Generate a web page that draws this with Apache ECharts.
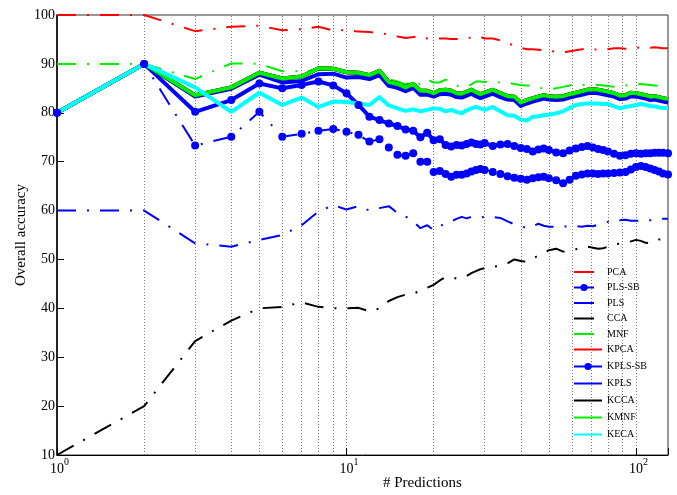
<!DOCTYPE html>
<html>
<head>
<meta charset="utf-8">
<script src="https://cdn.jsdelivr.net/npm/echarts@6/dist/echarts.min.js"></script>
<style>
  html, body { margin: 0; padding: 0; background: #fff; }
  #chart { width: 677px; height: 495px; }
</style>
</head>
<body>
<div id="chart"></div>
<script>
// number of predictions (log x axis)
const preds = [1, 2, 3, 4, 5, 6, 7, 8, 9, 10, 11, 12, 13, 14, 15, 16, 17, 18, 19, 20,
  21, 22, 23, 24, 25, 26, 27, 28, 29, 30, 32, 34, 36, 38, 40, 42, 44, 46, 48, 50,
  53, 56, 59, 62, 65, 68, 71, 74, 77, 80, 84, 88, 92, 96, 100, 104, 108, 112, 116, 120, 124, 129]

// overall accuracy, one array per method (same order as preds)
const pca = [100, 100, 96.7, 97.6, 97.8, 96.9, 97.1, 97.6, 96.8, 96.9, 96.6, 96.5, 96.3, 96.0, 95.6, 95.3, 95.5, 95.7, 95.2, 95.0,
  95.2, 95.2, 95.1, 95.1, 95.1, 95.2, 95.4, 95.7, 95.5, 95.2, 95.2, 94.8, 94.3, 93.7, 93.3, 93.0, 93.0, 92.9, 92.8, 92.8,
  92.4, 92.3, 92.6, 92.8, 93.0, 93.2, 93.0, 92.9, 92.8, 93.0, 93.2, 93.2, 93.1, 93.2, 93.3, 93.4, 93.4, 93.3, 93.4, 93.3, 93.2, 93.2]
const plsSb = [80, 90, 73.3, 75.1, 80.2, 75.1, 75.7, 76.3, 76.7, 76.1, 75.5, 74.1, 74.6, 72.9, 71.4, 71.2, 71.7, 70.0, 70.0, 67.9,
  68.1, 67.5, 66.9, 67.3, 67.3, 67.6, 68.0, 68.3, 68.5, 68.3, 67.9, 67.5, 67.0, 66.7, 66.5, 66.3, 66.6, 66.8, 66.9, 66.6,
  66.2, 65.6, 66.3, 67.1, 67.4, 67.6, 67.6, 67.5, 67.6, 67.6, 67.7, 67.8, 67.9, 68.4, 68.9, 69.1, 68.9, 68.6, 68.3, 68.0, 67.6, 67.4]
const pls = [60, 60, 53.3, 52.6, 54.0, 55.0, 57.0, 59.8, 61.1, 60.2, 60.9, 60.0, 60.5, 60.9, 59.5, 58.8, 57.8, 56.4, 57.0, 56.0,
  56.8, 57.4, 57.8, 58.3, 58.7, 58.4, 58.7, 58.6, 58.6, 58.7, 58.7, 58.5, 57.8, 57.2, 56.8, 56.4, 56.8, 57.3, 56.9, 56.7,
  56.7, 56.7, 56.8, 56.8, 56.7, 56.9, 56.8, 57.1, 57.4, 57.7, 58.1, 58.0, 58.1, 57.9, 57.9, 57.9, 58.0, 58.0, 58.1, 58.2, 58.3, 58.3]
const cca = [10, 20, 33.3, 37.5, 40.0, 40.3, 41.2, 40.3, 40.0, 40.0, 40.1, 39.4, 40.0, 41.5, 42.3, 42.8, 43.0, 43.6, 44.2, 44.8,
  45.7, 46.4, 46.4, 46.1, 46.2, 46.6, 47.2, 47.6, 48.0, 48.2, 48.5, 48.7, 49.2, 50.0, 49.7, 49.5, 50.2, 50.8, 51.3, 51.9,
  52.2, 51.6, 51.8, 52.1, 52.5, 52.6, 52.4, 52.2, 52.3, 52.6, 53.1, 53.2, 53.4, 53.7, 54.0, 53.8, 53.4, 53.3, 53.7, 54.1, 54.1, 53.9]
const mnf = [90, 90, 86.9, 90.1, 90.0, 88.5, 88.5, 88.7, 88.9, 88.5, 88.3, 87.8, 88.4, 86.9, 86.4, 85.8, 86.6, 85.8, 86.8, 86.2,
  86.2, 86.8, 86.2, 85.6, 85.2, 85.3, 85.8, 86.4, 86.4, 86.3, 86.4, 86.2, 86.2, 85.9, 85.7, 85.6, 85.5, 85.2, 84.9, 84.8,
  85.0, 85.3, 85.6, 85.8, 85.7, 85.7, 85.8, 85.7, 85.6, 85.5, 85.3, 85.4, 85.6, 85.7, 85.8, 85.9, 85.8, 85.7, 85.6, 85.5, 85.6, 85.6]
const kmnf = [80, 90, 83.6, 85.2, 88.2, 87.0, 87.4, 89.1, 89.0, 88.3, 88.2, 87.7, 88.6, 86.3, 85.9, 85.2, 85.9, 84.5, 84.5, 84.0,
  84.6, 84.7, 84.5, 84.0, 83.9, 84.3, 84.7, 84.2, 83.8, 84.1, 84.7, 84.0, 83.4, 83.3, 82.1, 82.6, 83.0, 83.3, 83.6, 83.4,
  83.3, 83.4, 83.8, 84.1, 84.4, 84.7, 84.8, 84.7, 84.5, 84.3, 84.0, 83.5, 83.6, 84.1, 84.0, 83.8, 83.6, 83.3, 83.4, 83.2, 83.0, 82.8]
// KPCA and KCCA lie under the KMNF curve in the picture
const kpca = kmnf
const kcca = kmnf
const kplsSb = [80, 90, 80.2, 82.6, 86.0, 85.0, 85.7, 86.4, 85.6, 84.0, 81.6, 79.2, 78.5, 77.8, 77.3, 76.6, 76.3, 75.0, 75.9, 74.4,
  74.6, 73.4, 73.1, 73.4, 73.3, 73.6, 73.9, 73.6, 73.5, 73.8, 73.2, 73.5, 73.6, 73.2, 72.8, 72.6, 72.1, 72.5, 72.7, 72.4,
  71.9, 71.7, 72.3, 72.7, 73.0, 73.2, 72.9, 72.6, 72.4, 72.1, 71.6, 71.2, 71.3, 71.6, 71.7, 71.6, 71.7, 71.7, 71.8, 71.8, 71.8, 71.7]
const kpls = [80, 90, 83.3, 84.9, 87.8, 86.2, 86.5, 87.9, 88.0, 87.2, 87.3, 86.9, 87.7, 85.5, 85.1, 84.4, 85.1, 83.7, 83.7, 83.3,
  83.8, 83.9, 83.7, 83.2, 83.1, 83.5, 83.9, 83.4, 83.0, 83.3, 83.9, 83.2, 82.7, 82.6, 81.4, 81.9, 82.3, 82.6, 82.9, 82.7,
  82.6, 82.7, 83.1, 83.4, 83.7, 84.0, 84.1, 84.0, 83.8, 83.6, 83.3, 82.8, 82.9, 83.4, 83.3, 83.1, 82.9, 82.6, 82.7, 82.5, 82.3, 82.1]
const keca = [80, 90, 85.2, 80.2, 84.1, 81.6, 83.1, 81.2, 82.3, 82.2, 81.9, 81.6, 83.2, 81.5, 80.9, 80.4, 80.7, 80.3, 80.6, 80.9,
  80.8, 80.3, 80.6, 80.2, 79.9, 80.5, 80.9, 81.2, 80.9, 80.6, 81.2, 80.3, 79.5, 79.4, 78.6, 78.4, 79.2, 79.3, 79.5, 79.6,
  79.9, 80.3, 81.0, 81.6, 81.8, 81.9, 81.9, 81.9, 81.8, 81.8, 81.3, 80.9, 81.2, 81.4, 81.6, 81.8, 81.6, 81.4, 81.3, 81.1, 81.0, 80.9]

// dotted vertical grid lines (minor log positions)
const gridX = [2, 3, 4, 5, 6, 7, 8, 9, 10, 20, 30, 40, 50, 60, 70, 80, 90, 100]

const serif = "'Liberation Serif', 'Times New Roman', serif"
const dashDot = [19, 11, 2, 11]

const chart = echarts.init(document.getElementById('chart'))

const pair = (vals) => vals.map((v, i) => [preds[i], v])

// thin dash-dot line (linear methods)
function thinLine(name, color, vals, marker) {
  return {
    name: name,
    type: 'line',
    data: pair(vals),
    symbol: marker ? 'circle' : 'none',
    symbolSize: 8,
    itemStyle: { color: color },
    lineStyle: { color: color, width: 2, type: dashDot },
    emphasis: { disabled: true }
  }
}
// thick solid line (kernel methods)
function thickLine(name, color, vals, marker) {
  return {
    name: name,
    type: 'line',
    data: pair(vals),
    symbol: marker ? 'circle' : 'none',
    symbolSize: 8,
    itemStyle: { color: color },
    lineStyle: { color: color, width: 4, join: 'round' },
    emphasis: { disabled: true }
  }
}

const red = '#ff0000'
const blue = '#0000ff'
const green = '#00ee00'
const cyan = '#00ffff'

const series = [
  thinLine('PCA', red, pca, false),
  thinLine('PLS-SB', blue, plsSb, true),
  thinLine('PLS', blue, pls, false),
  thinLine('CCA', '#000', cca, false),
  thinLine('MNF', green, mnf, false),
  thickLine('KPCA', red, kpca, false),
  thickLine('KPLS-SB', blue, kplsSb, true),
  thickLine('KPLS', blue, kpls, false),
  thickLine('KCCA', '#000', kcca, false),
  thickLine('KMNF', green, kmnf, false),
  thickLine('KECA', cyan, keca, false)
]

// grid lines hang on the first series
series[0].markLine = {
  silent: true,
  symbol: ['none', 'none'],
  label: { show: false },
  lineStyle: { color: '#777', width: 1, type: [1, 2] },
  data: gridX.map((v) => ({ xAxis: v })),
  z: 0
}

// legend entries: only the *-SB methods show a marker
const legendItem = (name) => ({
  name: name,
  itemStyle: { opacity: name.indexOf('-SB') > 0 ? 1 : 0 }
})

const legendText = { fontFamily: serif, fontSize: 10, color: '#000', lineHeight: 9 }

const options = {
  animation: false,
  grid: {
    left: 57, right: 9, top: 15, bottom: 40,
    show: true, borderColor: '#333', borderWidth: 1
  },
  legend: [
    {
      orient: 'vertical',
      selectedMode: false,
      padding: 0,
      left: 573, top: 267,
      itemWidth: 20, itemHeight: 9, itemGap: 5.5,
      lineStyle: { type: 'solid' },
      textStyle: Object.assign({}, legendText, { padding: [0, 0, 0, 8] }),
      data: ['PCA', 'PLS-SB', 'PLS', 'CCA', 'MNF'].map(legendItem)
    },
    {
      orient: 'vertical',
      selectedMode: false,
      padding: 0,
      left: 573, top: 344.5,
      itemWidth: 28, itemHeight: 9, itemGap: 7,
      lineStyle: { type: 'solid' },
      textStyle: Object.assign({}, legendText, { padding: [0, 0, 0, 0] }),
      data: ['KPCA', 'KPLS-SB', 'KPLS', 'KCCA', 'KMNF', 'KECA'].map(legendItem)
    }
  ],
  xAxis: {
    type: 'log',
    logBase: 10,
    min: 1,
    max: 129,
    axisLine: { show: true, onZero: false, lineStyle: { color: '#000', width: 1 } },
    axisTick: { show: true, inside: true, length: 7, lineStyle: { color: '#000' } },
    splitLine: { show: false },
    axisLabel: {
      margin: 2,
      formatter: (v) => {
        const e = Math.round(Math.log10(v))
        return Math.abs(Math.pow(10, e) - v) < 1e-6 ? '{b|10}{s|' + e + '}' : ''
      },
      rich: {
        b: { fontFamily: serif, fontSize: 14, color: '#000', padding: [5, 0, 0, 5] },
        s: { fontFamily: serif, fontSize: 10, color: '#000', verticalAlign: 'top' }
      }
    }
  },
  yAxis: {
    type: 'value',
    min: 10,
    max: 100,
    interval: 10,
    name: 'Overall accuracy',
    nameLocation: 'middle',
    nameGap: 28,
    nameMoveOverlap: false,
    nameTextStyle: { fontFamily: serif, fontSize: 15, color: '#000' },
    axisLine: { show: true, lineStyle: { color: '#000', width: 1.5 } },
    axisTick: { show: true, inside: true, length: 7, lineStyle: { color: '#000' } },
    splitLine: { show: false },
    axisLabel: { fontFamily: serif, fontSize: 14, color: '#000', margin: 2 }
  },
  graphic: [
    {
      type: 'text',
      left: 383,
      top: 476,
      style: { text: '# Predictions', font: '15px ' + serif, fill: '#000' }
    }
  ],
  series: series
}

options && chart.setOption(options, true)
</script>
</body>
</html>
